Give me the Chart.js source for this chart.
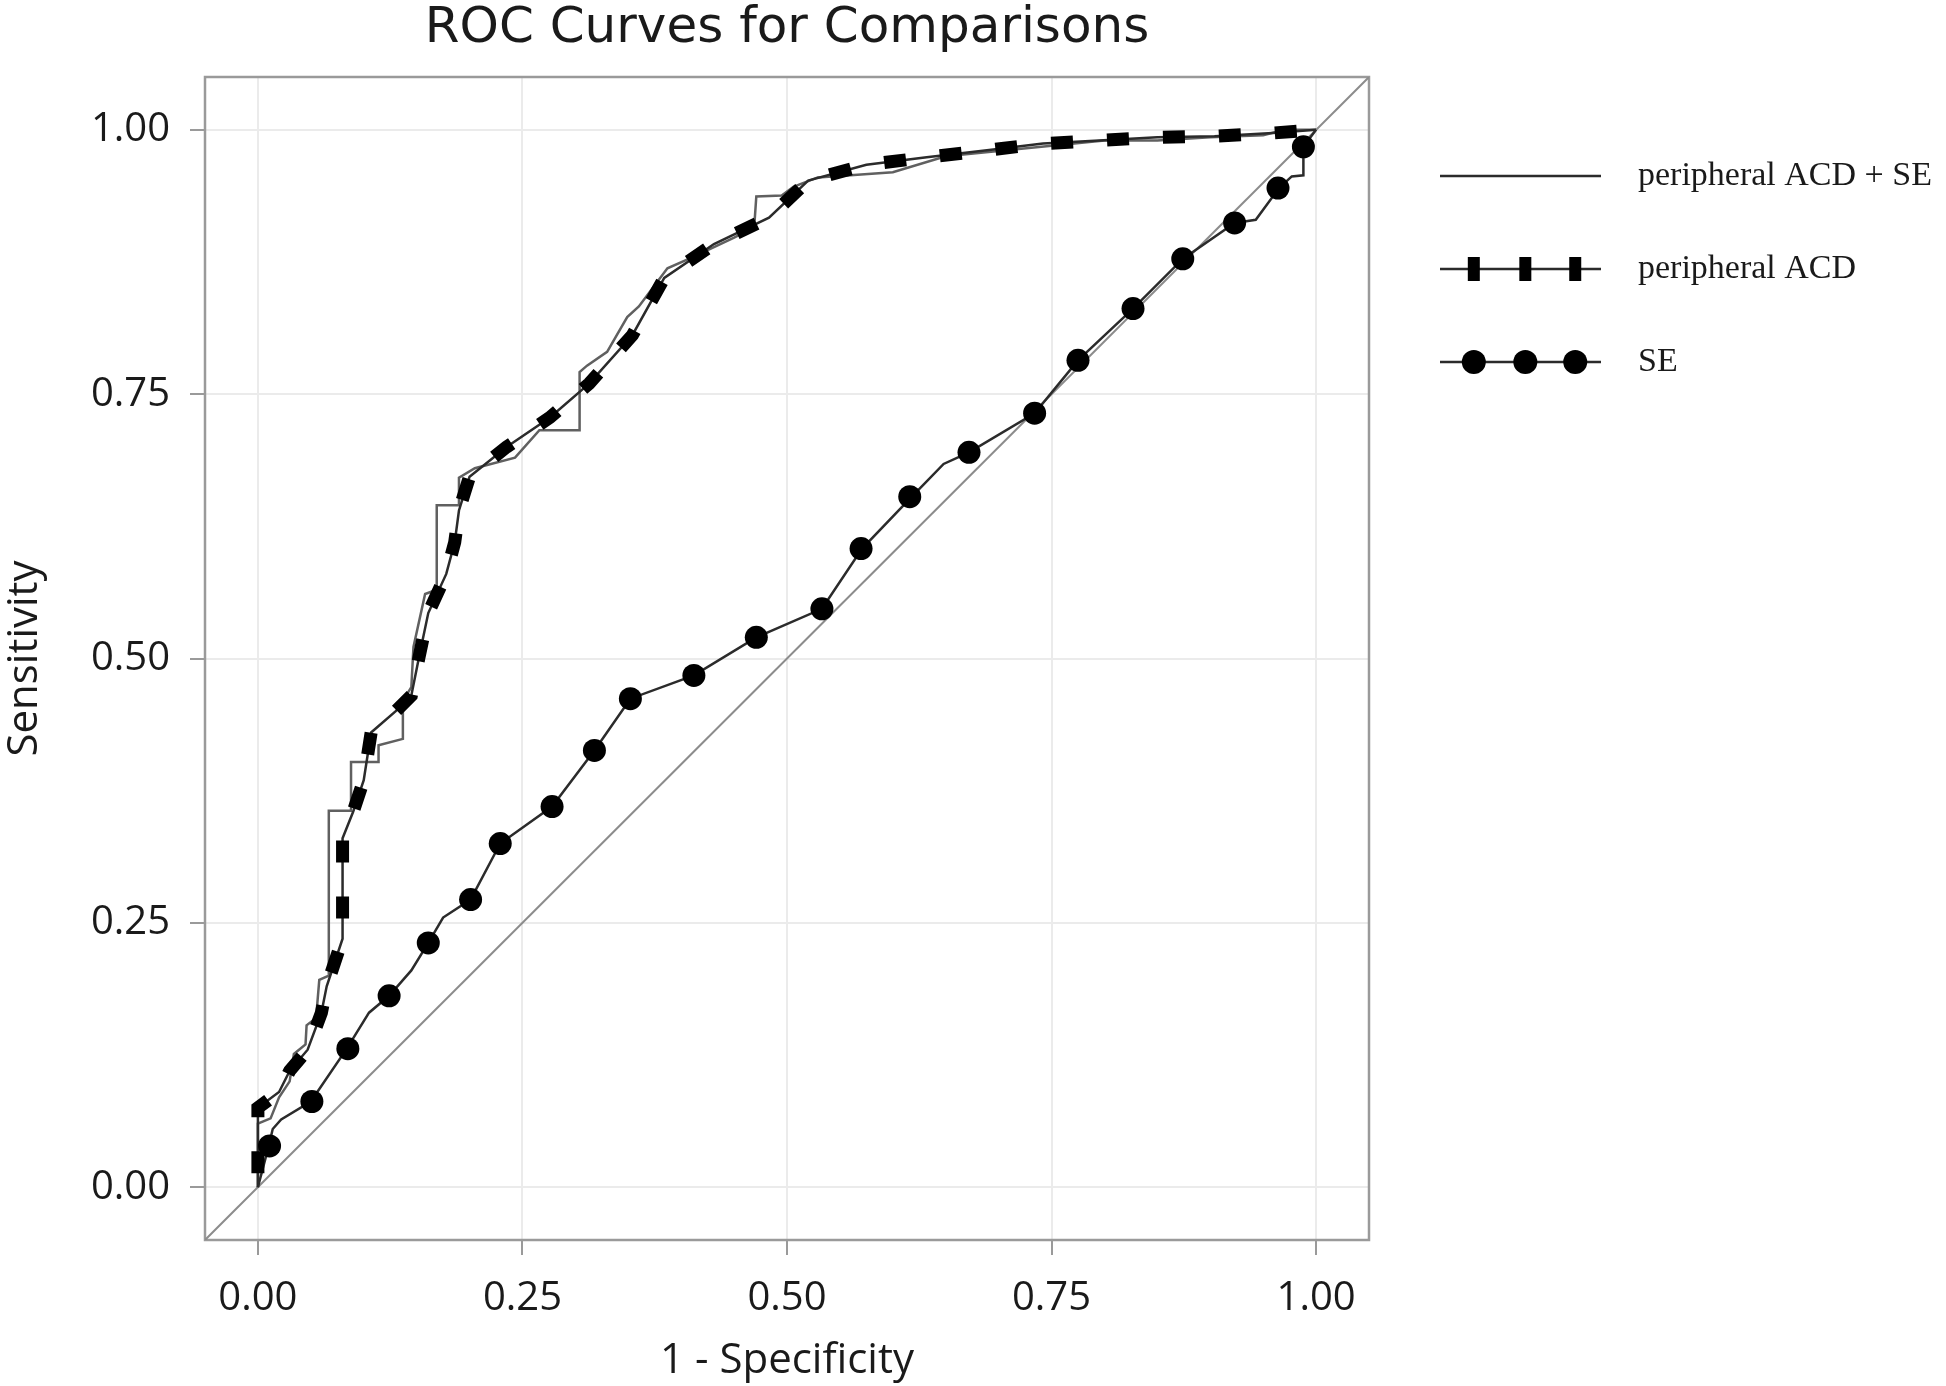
<!DOCTYPE html>
<html>
<head>
<meta charset="utf-8">
<title>ROC Curves for Comparisons</title>
<script src="https://cdn.jsdelivr.net/npm/chart.js@4.4.1/dist/chart.umd.min.js"></script>
<style>
  html, body { margin: 0; padding: 0; background: #fff; }
</style>
</head>
<body>
<canvas id="roc" width="1946" height="1386"></canvas>
<script>
// === ROC CURVES FOR COMPARISONS ===
// Values.

var tickValues = [0, 0.25, 0.5, 0.75, 1];
var axisMin = -0.05, axisMax = 1.05;

var legendLabels = ['peripheral ACD + SE', 'peripheral ACD', 'SE'];

// peripheral ACD + SE (thin step curve)
var comboX = [0, 0, 0.012, 0.02, 0.03, 0.034, 0.045, 0.046, 0.055, 0.058, 0.067, 0.067, 0.088, 0.088, 0.114, 0.114, 0.137, 0.137, 0.145, 0.147, 0.158, 0.169, 0.169, 0.19, 0.19, 0.205, 0.243, 0.266, 0.304, 0.304, 0.311, 0.33, 0.349, 0.36, 0.387, 0.412, 0.45, 0.469, 0.471, 0.495, 0.506, 0.529, 0.56, 0.6, 0.65, 0.7, 0.75, 0.8, 0.85, 0.9, 0.95, 0.97, 1];
var comboY = [0, 0.06, 0.065, 0.085, 0.1, 0.126, 0.135, 0.153, 0.16, 0.196, 0.2, 0.356, 0.356, 0.402, 0.402, 0.418, 0.424, 0.46, 0.473, 0.511, 0.561, 0.565, 0.645, 0.645, 0.671, 0.68, 0.69, 0.716, 0.716, 0.771, 0.777, 0.79, 0.823, 0.833, 0.869, 0.88, 0.898, 0.908, 0.937, 0.938, 0.946, 0.955, 0.957, 0.96, 0.975, 0.98, 0.985, 0.99, 0.99, 0.993, 0.995, 1, 1];

// peripheral ACD
var acdX = [0, 0, 0.02, 0.03, 0.047, 0.06, 0.065, 0.08, 0.08, 0.09, 0.1, 0.107, 0.13, 0.145, 0.152, 0.161, 0.178, 0.186, 0.19, 0.2, 0.235, 0.276, 0.313, 0.354, 0.384, 0.431, 0.483, 0.52, 0.575, 0.632, 0.691, 0.742, 0.795, 0.85, 0.904, 0.959, 1];
var acdY = [0, 0.075, 0.09, 0.11, 0.13, 0.165, 0.19, 0.235, 0.33, 0.355, 0.385, 0.43, 0.45, 0.465, 0.5, 0.543, 0.58, 0.61, 0.64, 0.672, 0.7, 0.728, 0.76, 0.806, 0.86, 0.892, 0.917, 0.952, 0.967, 0.974, 0.981, 0.987, 0.99, 0.993, 0.994, 0.997, 1];

// SE line
var seX = [0, 0.010, 0.014, 0.022, 0.050, 0.084, 0.105, 0.124, 0.145, 0.161, 0.175, 0.201, 0.229, 0.278, 0.318, 0.352, 0.412, 0.471, 0.533, 0.571, 0.618, 0.648, 0.672, 0.734, 0.775, 0.827, 0.874, 0.923, 0.943, 0.965, 0.977, 0.988, 0.988, 1];
var seY = [0, 0.038, 0.055, 0.064, 0.081, 0.131, 0.165, 0.181, 0.205, 0.231, 0.255, 0.272, 0.325, 0.360, 0.413, 0.462, 0.484, 0.520, 0.547, 0.604, 0.653, 0.684, 0.695, 0.732, 0.782, 0.831, 0.878, 0.912, 0.915, 0.945, 0.956, 0.957, 0.984, 1];

// SE markers
var seMarkX = [0.011, 0.051, 0.085, 0.124, 0.161, 0.201, 0.229, 0.278, 0.318, 0.352, 0.412, 0.471, 0.533, 0.570, 0.616, 0.672, 0.734, 0.775, 0.827, 0.874, 0.923, 0.964, 0.988];
var seMarkY = [0.039, 0.081, 0.131, 0.181, 0.231, 0.272, 0.325, 0.360, 0.413, 0.462, 0.484, 0.520, 0.547, 0.604, 0.653, 0.695, 0.732, 0.782, 0.831, 0.878, 0.912, 0.945, 0.984];

// chance diagonal, corner to corner
var diagX = [-0.05, 1.05];
var diagY = [-0.05, 1.05];

function toPoints(xs, ys) {
  return xs.map(function(x, i) { return { x: x, y: ys[i] }; });
}

var LINE = '#2b2b2b';
var GRID = '#ebebeb';
var FRAME = '#9a9a9a';
var TEXT = '#1a1a1a';

// grey frame round the panel
var panelBorder = {
  id: 'panelBorder',
  beforeDatasetsDraw: function(chart) {
    var a = chart.chartArea, ctx = chart.ctx;
    ctx.save();
    ctx.strokeStyle = FRAME;
    ctx.lineWidth = 2.5;
    ctx.strokeRect(a.left, a.top, a.right - a.left, a.bottom - a.top);
    ctx.restore();
  }
};

// legend on the right: line sample with three markers, serif labels
var rocLegend = {
  id: 'rocLegend',
  afterDraw: function(chart) {
    var ctx = chart.ctx, a = chart.chartArea;
    var x0 = a.right + 71, x1 = a.right + 232, textX = a.right + 269;
    var marks = [0.21, 0.53, 0.84];
    ctx.save();
    legendLabels.forEach(function(label, i) {
      var y = a.top + 99 + i * 93;
      ctx.strokeStyle = LINE;
      ctx.lineWidth = 2.5;
      ctx.beginPath();
      ctx.moveTo(x0, y);
      ctx.lineTo(x1, y);
      ctx.stroke();
      ctx.fillStyle = '#000';
      marks.forEach(function(f) {
        var mx = x0 + f * (x1 - x0);
        if (i === 1) {
          ctx.fillRect(mx - 6, y - 12, 12, 24);
        } else if (i === 2) {
          ctx.beginPath();
          ctx.arc(mx, y, 12, 0, Math.PI * 2);
          ctx.fill();
        }
      });
      ctx.fillStyle = TEXT;
      ctx.font = '34px "Liberation Serif", serif';
      ctx.textAlign = 'left';
      ctx.textBaseline = 'middle';
      ctx.fillText(label, textX, y);
    });
    ctx.restore();
  }
};

function fixedTicks(scale) {
  scale.ticks = tickValues.map(function(v) { return { value: v }; });
}

var tickFont = { family: '"Open Sans", sans-serif', size: 40 };
var titleFont = { family: '"Open Sans", sans-serif', size: 42 };

new Chart(document.getElementById('roc'), {
  type: 'scatter',
  data: {
    datasets: [
      {
        label: 'SE markers',
        data: toPoints(seMarkX, seMarkY),
        showLine: false,
        pointStyle: 'circle',
        pointRadius: 11.5,
        pointBackgroundColor: '#000',
        pointBorderColor: '#000',
        pointBorderWidth: 0,
        order: 0
      },
      {
        label: 'peripheral ACD dashes',
        data: toPoints(acdX, acdY),
        showLine: true,
        borderColor: '#000',
        borderWidth: 13,
        borderDash: [22, 34],
        borderDashOffset: -70,
        borderCapStyle: 'butt',
        pointRadius: 0,
        order: 1
      },
      {
        label: 'SE',
        data: toPoints(seX, seY),
        showLine: true,
        borderColor: LINE,
        borderWidth: 2.5,
        pointRadius: 0,
        order: 2
      },
      {
        label: 'peripheral ACD',
        data: toPoints(acdX, acdY),
        showLine: true,
        borderColor: LINE,
        borderWidth: 2.5,
        pointRadius: 0,
        order: 3
      },
      {
        label: 'peripheral ACD + SE',
        data: toPoints(comboX, comboY),
        showLine: true,
        borderColor: '#606060',
        borderWidth: 2.5,
        pointRadius: 0,
        order: 4
      },
      {
        label: 'reference',
        data: toPoints(diagX, diagY),
        showLine: true,
        borderColor: '#8c8c8c',
        borderWidth: 2,
        pointRadius: 0,
        order: 5
      }
    ]
  },
  options: {
    responsive: false,
    animation: false,
    events: [],
    layout: { padding: { left: 0, right: 577, top: 0, bottom: 0 } },
    plugins: {
      legend: { display: false },
      tooltip: { enabled: false },
      title: {
        display: true,
        fullSize: false,
        text: 'ROC Curves for Comparisons',
        color: TEXT,
        font: { family: '"DejaVu Sans", sans-serif', size: 50, weight: 'normal', lineHeight: 1.0 },
        padding: { top: 4, bottom: 23 }
      }
    },
    scales: {
      x: {
        type: 'linear',
        min: axisMin,
        max: axisMax,
        afterBuildTicks: fixedTicks,
        afterFit: function(s) { s.height = 146; },
        border: { display: false },
        grid: { color: GRID, lineWidth: 2, tickLength: 15, tickColor: FRAME, tickWidth: 2 },
        ticks: {
          font: tickFont,
          color: TEXT,
          padding: 20,
          maxRotation: 0,
          autoSkip: false,
          callback: function(v) { return v.toFixed(2); }
        },
        title: { display: true, text: '1 - Specificity', color: TEXT, font: titleFont, padding: { top: 0, bottom: 0 } }
      },
      y: {
        type: 'linear',
        min: axisMin,
        max: axisMax,
        afterBuildTicks: fixedTicks,
        afterFit: function(s) { s.width = 205; },
        border: { display: false },
        grid: { color: GRID, lineWidth: 2, tickLength: 15, tickColor: FRAME, tickWidth: 2 },
        ticks: {
          font: tickFont,
          color: TEXT,
          padding: 20,
          autoSkip: false,
          callback: function(v) { return v.toFixed(2); }
        },
        title: { display: true, text: 'Sensitivity', color: TEXT, font: titleFont, padding: { top: 0, bottom: 0 } }
      }
    }
  },
  plugins: [panelBorder, rocLegend]
});
</script>
</body>
</html>
